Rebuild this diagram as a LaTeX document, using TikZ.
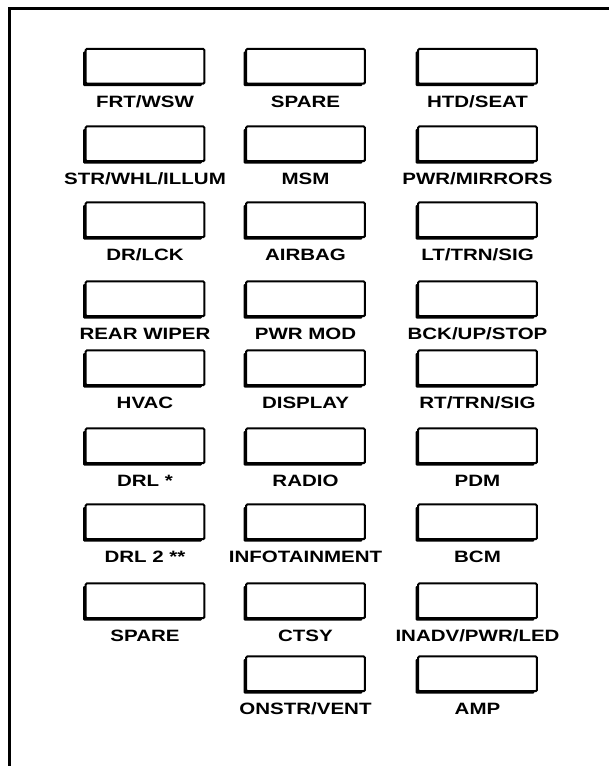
\documentclass[tikz,border=0pt]{standalone}
\usepackage{fontspec}
\setmainfont{Liberation Sans}
\newfontfamily\fusefont[FakeStretch=1.25]{Liberation Sans}
\usetikzlibrary{positioning, shadows}
\tikzset{
    % Fuse slot - thin box, heavier left and bottom edge
    fuse/.style={
        rectangle,
        draw=black,
        fill=white,
        line width=1.5pt,
        minimum width=89pt,
        minimum height=26pt,
        inner sep=0pt,
        rounded corners=0.8pt,
        drop shadow={shadow xshift=-1.9pt, shadow yshift=-1.9pt, fill=black, opacity=1}
    },
    % Fuse name under each slot
    fuselabel/.style={
        inner sep=0pt,
        text height=8.8pt,
        text depth=0pt,
        font=\fontsize{12.3pt}{14pt}\fusefont\bfseries
    },
    % Panel outline
    frameline/.style={
        line width=2pt,
        draw=black
    }
}
\begin{document}
\begin{tikzpicture}[x=0.75pt, y=-0.75pt]
    \useasboundingbox (0,0) rectangle (609,766);

    % Panel outline (top and left edges)
    \coordinate (c0) at (9.5,766);
    \coordinate (c1) at (9.5,8.5);
    \coordinate (c2) at (609,8.5);
    \draw[frameline] (c0) -- (c1) -- (c2);

    % Row 1
    \node[fuse] (f1) at (145,66.3) {};
    \node[fuselabel, below=8pt of f1] (l1) {FRT/WSW};
    \node[fuse] (f2) at (305.5,66.3) {};
    \node[fuselabel, below=8pt of f2] (l2) {SPARE};
    \node[fuse] (f3) at (477.5,66.3) {};
    \node[fuselabel, below=8pt of f3] (l3) {HTD/SEAT};

    % Row 2
    \node[fuse] (f4) at (145,143.8) {};
    \node[fuselabel, below=8pt of f4] (l4) {STR/WHL/ILLUM};
    \node[fuse] (f5) at (305.5,143.8) {};
    \node[fuselabel, below=8pt of f5] (l5) {MSM};
    \node[fuse] (f6) at (477.5,143.8) {};
    \node[fuselabel, below=8pt of f6] (l6) {PWR/MIRRORS};

    % Row 3
    \node[fuse] (f7) at (145,219.8) {};
    \node[fuselabel, below=8pt of f7] (l7) {DR/LCK};
    \node[fuse] (f8) at (305.5,219.8) {};
    \node[fuselabel, below=8pt of f8] (l8) {AIRBAG};
    \node[fuse] (f9) at (477.5,219.8) {};
    \node[fuselabel, below=8pt of f9] (l9) {LT/TRN/SIG};

    % Row 4
    \node[fuse] (f10) at (145,298.8) {};
    \node[fuselabel, below=8pt of f10] (l10) {REAR WIPER};
    \node[fuse] (f11) at (305.5,298.8) {};
    \node[fuselabel, below=8pt of f11] (l11) {PWR MOD};
    \node[fuse] (f12) at (477.5,298.8) {};
    \node[fuselabel, below=8pt of f12] (l12) {BCK/UP/STOP};

    % Row 5
    \node[fuse] (f13) at (145,367.8) {};
    \node[fuselabel, below=8pt of f13] (l13) {HVAC};
    \node[fuse] (f14) at (305.5,367.8) {};
    \node[fuselabel, below=8pt of f14] (l14) {DISPLAY};
    \node[fuse] (f15) at (477.5,367.8) {};
    \node[fuselabel, below=8pt of f15] (l15) {RT/TRN/SIG};

    % Row 6
    \node[fuse] (f16) at (145,445.8) {};
    \node[fuselabel, below=8pt of f16] (l16) {DRL *};
    \node[fuse] (f17) at (305.5,445.8) {};
    \node[fuselabel, below=8pt of f17] (l17) {RADIO};
    \node[fuse] (f18) at (477.5,445.8) {};
    \node[fuselabel, below=8pt of f18] (l18) {PDM};

    % Row 7
    \node[fuse] (f19) at (145,521.8) {};
    \node[fuselabel, below=8pt of f19] (l19) {DRL 2 **};
    \node[fuse] (f20) at (305.5,521.8) {};
    \node[fuselabel, below=8pt of f20] (l20) {INFOTAINMENT};
    \node[fuse] (f21) at (477.5,521.8) {};
    \node[fuselabel, below=8pt of f21] (l21) {BCM};

    % Row 8
    \node[fuse] (f22) at (145,600.8) {};
    \node[fuselabel, below=8pt of f22] (l22) {SPARE};
    \node[fuse] (f23) at (305.5,600.8) {};
    \node[fuselabel, below=8pt of f23] (l23) {CTSY};
    \node[fuse] (f24) at (477.5,600.8) {};
    \node[fuselabel, below=8pt of f24] (l24) {INADV/PWR/LED};

    % Row 9 (two slots)
    \node[fuse] (f25) at (305.5,673.8) {};
    \node[fuselabel, below=8pt of f25] (l25) {ONSTR/VENT};
    \node[fuse] (f26) at (477.5,673.8) {};
    \node[fuselabel, below=8pt of f26] (l26) {AMP};
\end{tikzpicture}
\end{document}
